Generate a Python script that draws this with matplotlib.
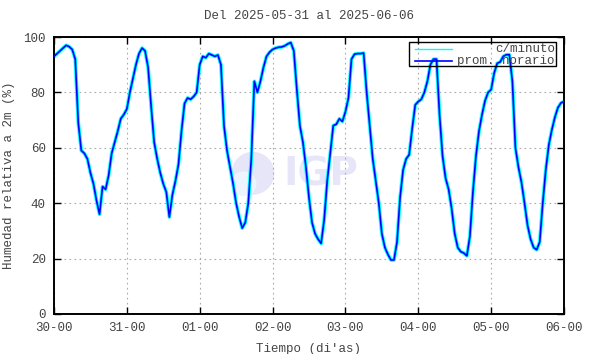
import matplotlib
matplotlib.use("Agg")
import matplotlib.pyplot as plt
from matplotlib.patches import Ellipse, Rectangle
from matplotlib.lines import Line2D
import numpy as np

plt.rcParams['font.family'] = ['Liberation Mono', 'DejaVu Sans Mono']

# hourly mean relative humidity (%), hour 0 = 30-00
prom_horario = [
    93, 94, 95, 96, 97, 96.5, 95.5, 92, 69, 59, 58, 56, 51, 47, 41, 36,
    46, 45, 50, 58, 62, 66, 70.5, 72,
    74, 80, 85, 90, 94, 96, 95, 89, 75, 62, 56, 51, 47, 44, 35, 43,
    48, 54, 66, 76, 78, 77.5, 78.5, 80,
    90, 93, 92.5, 94, 93.5, 93, 93.5, 90, 68, 59, 53, 47, 40, 35, 31, 33,
    40, 56, 84, 80, 84, 89, 93, 94.5,
    95.5, 96, 96.3, 96.4, 96.8, 97.5, 98, 95, 81, 68, 62, 53, 42, 33, 29, 27,
    25.5, 34, 48, 58, 68, 68.5, 70.5, 69.5,
    73, 78, 92, 93.8, 94, 94, 94.2, 80, 68, 56, 48, 40, 29, 24, 21.5, 19.5,
    19.5, 26, 42, 52, 56, 57.5, 67, 75.5,
    76.7, 77.5, 80, 84, 90, 92, 92, 72, 57, 49, 45, 38, 29, 24, 22.5, 22,
    21, 28, 44, 57, 66, 72, 77, 80,
    81, 87, 90.5, 91, 93, 93.6, 93.6, 84, 60, 53, 47.5, 40, 32, 27, 24, 23.2,
    26, 40, 52, 61, 66.5, 71, 74.5, 76.2,
    76.7,
]
horas = np.arange(len(prom_horario))

tick_horas = [0, 24, 48, 72, 96, 120, 144, 168]
tick_labels = ['30-00', '31-00', '01-00', '02-00', '03-00', '04-00', '05-00', '06-00']
y_ticks = [0, 20, 40, 60, 80, 100]

txt = '#444444'
fs = 9

fig = plt.figure(figsize=(5.9, 3.54), dpi=100)
ax = fig.add_axes([54/590, 1 - 314/354, 510/590, 277/354])

# IGP watermark (round logo + letters)
ax.add_patch(Ellipse((0.39, 0.508), 0.084, 0.155, transform=ax.transAxes,
                     facecolor='#e6e6f8', edgecolor='none', zorder=0))
ax.add_patch(Ellipse((0.372, 0.47), 0.05, 0.09, transform=ax.transAxes,
                     facecolor='#eef4fd', edgecolor='none', zorder=0))
ax.text(0.523, 0.505, 'IGP', transform=ax.transAxes, ha='center', va='center',
        fontsize=28, fontweight='bold', family='DejaVu Sans',
        color='#e6e6f8', zorder=0)

ax.plot(horas, prom_horario, color='#00ffff', lw=2.6, zorder=2,
        solid_joinstyle='round')
ax.plot(horas, prom_horario, color='#0000ff', lw=1.2, zorder=3)

ax.set_xlim(0, 168)
ax.set_ylim(0, 100)
ax.set_xticks(tick_horas)
ax.set_xticklabels(tick_labels)
ax.set_yticks(y_ticks)
ax.tick_params(direction='in', length=5, width=1, top=True, right=True,
               labelsize=fs, labelcolor=txt, pad=6)
ax.grid(True, color='#aaaaaa', linestyle=(0, (1.5, 3)), linewidth=0.8)
for s in ax.spines.values():
    s.set_linewidth(1.4)

ax.set_title('Del 2025-05-31 al 2025-06-06', fontsize=fs, color=txt, pad=13)
ax.set_xlabel("Tiempo (di'as)", fontsize=fs, color=txt, labelpad=6)
ax.set_ylabel('Humedad relativa a 2m (%)', fontsize=fs, color=txt, labelpad=6)

# legend box (gnuplot style, text right aligned)
ax.add_patch(Rectangle((0.696, 0.895), 0.288, 0.087, transform=ax.transAxes,
                       fill=False, edgecolor='black', lw=1, zorder=5))
ax.add_line(Line2D([0.708, 0.78], [0.955, 0.955], transform=ax.transAxes,
                   color='#00ffff', lw=1, zorder=5))
ax.add_line(Line2D([0.708, 0.78], [0.915, 0.915], transform=ax.transAxes,
                   color='#0000ff', lw=1.2, zorder=5))
ax.text(0.982, 0.955, 'c/minuto', transform=ax.transAxes, ha='right',
        va='center', fontsize=fs, color=txt, zorder=5)
ax.text(0.982, 0.915, 'prom. horario', transform=ax.transAxes, ha='right',
        va='center', fontsize=fs, color=txt, zorder=5)

fig.savefig('out.png', dpi=100)
